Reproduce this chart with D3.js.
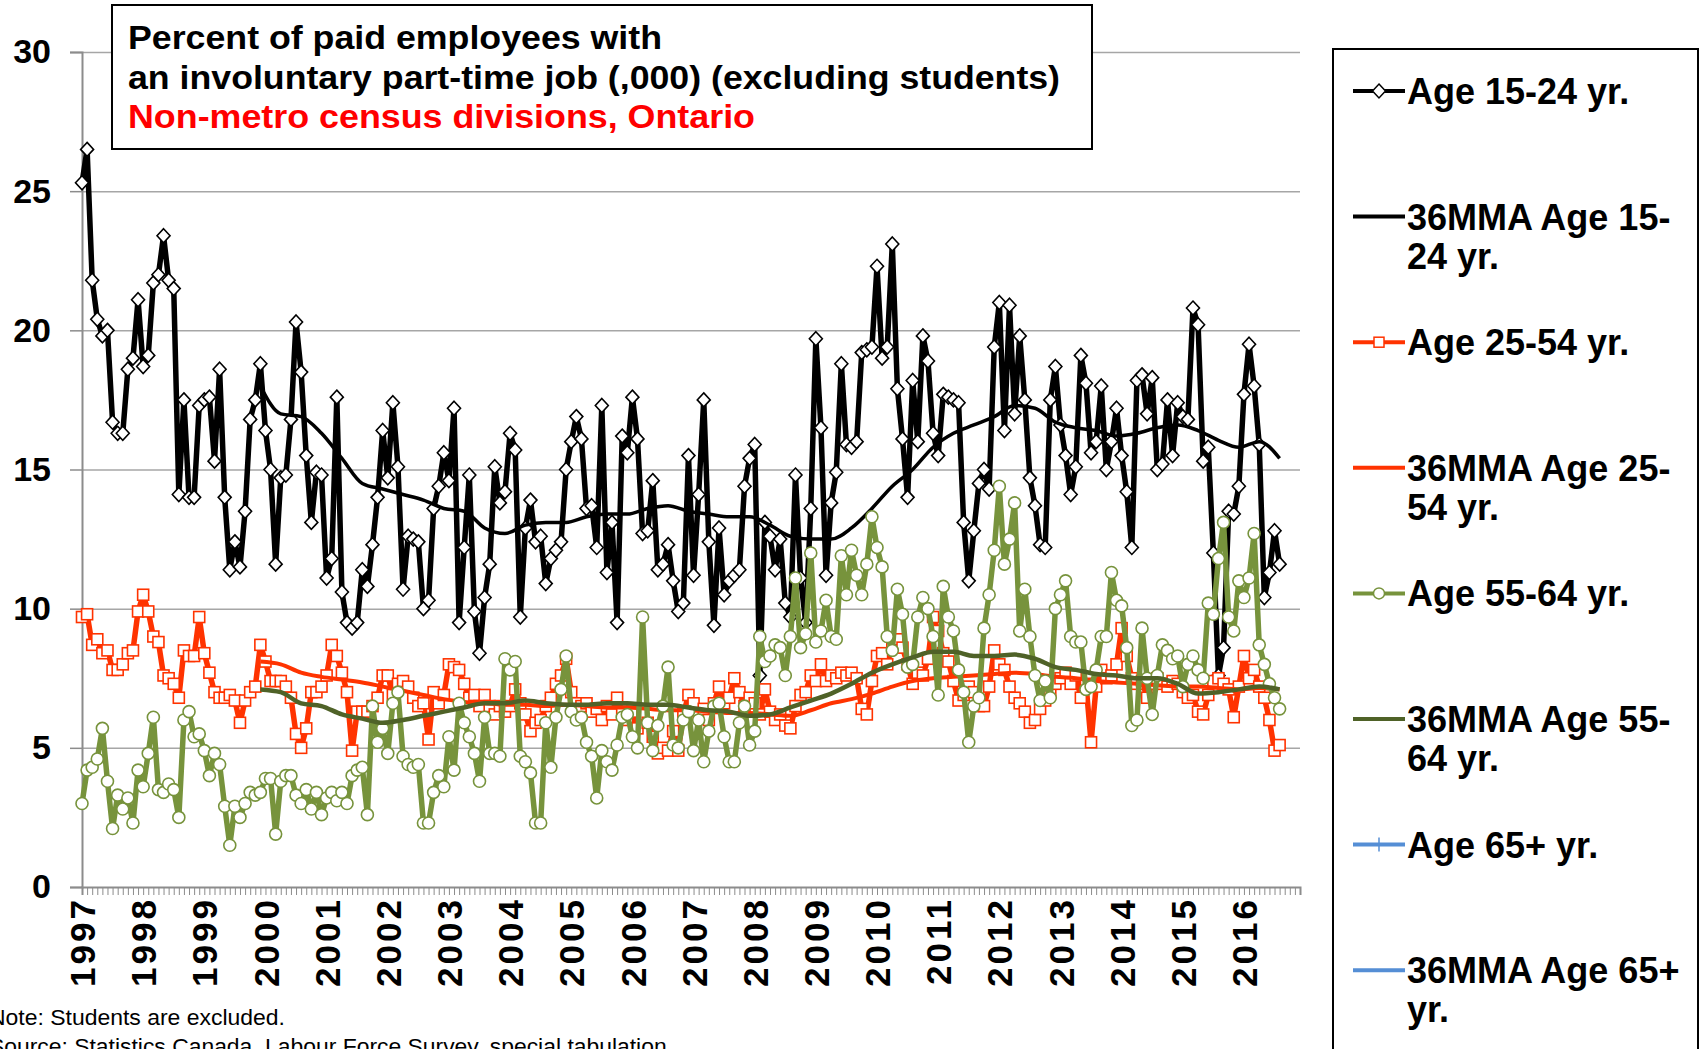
<!DOCTYPE html>
<html>
<head>
<meta charset="utf-8">
<script src="https://cdn.jsdelivr.net/npm/d3@7"></script>
<style>
  body { margin: 0; background: #fff; }
  svg { display: block; font-family: "Liberation Sans", Arial, sans-serif; }
</style>
</head>
<body>
<svg id="chart" width="1700" height="1049"></svg>
<script>
// monthly values, Jan 1997 onward
const yearLabels = ["1997","1998","1999","2000","2001","2002","2003","2004","2005","2006",
                    "2007","2008","2009","2010","2011","2012","2013","2014","2015","2016"];
const yTicks = [0, 5, 10, 15, 20, 25, 30];

const age1524 = [
  25.3,26.5,21.8,20.4,19.8,20.0,16.7,16.3,16.3,18.6,19.0,21.1,
  18.7,19.1,21.7,22.0,23.4,21.8,21.5,14.1,17.5,14.0,14.0,17.3,
  17.5,17.6,15.3,18.6,14.0,11.4,12.4,11.5,13.5,16.8,17.5,18.8,
  16.4,15.0,11.6,14.7,14.8,16.8,20.3,18.5,15.5,13.1,14.9,14.8,
  11.1,11.8,17.6,10.6,9.5,9.3,9.5,11.4,10.8,12.3,14.0,16.4,
  14.7,17.4,15.1,10.7,12.6,12.5,12.4,10.0,10.3,13.6,14.4,15.6,
  14.6,17.2,9.5,12.2,14.8,9.9,8.4,10.4,11.6,15.1,13.8,14.2,
  16.3,15.7,9.7,12.9,13.9,12.4,12.6,10.9,11.8,12.1,12.4,15.0,
  16.0,16.9,16.1,13.6,13.7,12.2,17.3,11.3,13.1,9.5,16.2,15.6,
  17.6,16.1,12.7,12.8,14.6,11.4,11.6,12.3,11.0,9.9,10.2,15.5,
  11.2,14.1,17.5,12.4,9.4,12.9,10.5,11.0,11.2,11.4,14.4,15.4,
  15.9,7.6,13.1,12.6,11.4,12.5,10.2,9.7,14.8,11.1,9.5,13.6,
  19.7,16.5,11.2,13.8,14.9,18.8,15.9,15.8,16.0,19.2,19.3,19.4,
  22.3,19.0,19.4,23.1,17.9,16.1,14.0,18.2,16.0,19.8,18.9,16.3,
  15.5,17.7,17.6,17.5,17.4,13.1,11.0,12.8,14.5,15.0,14.3,19.4,
  21.0,16.4,20.9,17.0,19.8,17.5,14.7,13.7,12.3,12.2,17.5,18.7,
  16.6,15.5,14.1,15.1,19.1,18.1,15.6,16.0,18.0,15.0,16.0,17.2,
  15.5,14.2,12.2,18.2,18.4,17.0,18.3,15.0,15.2,17.5,15.5,17.4,
  16.9,16.8,20.8,20.2,15.3,15.8,12.0,7.6,8.6,13.5,13.4,14.4,
  17.7,19.5,18.0,15.9,10.4,11.3,12.8,11.6
];

const age2554 = [
  9.7,9.8,8.7,8.9,8.4,8.5,7.8,7.8,8.0,8.4,8.5,9.9,
  10.5,9.9,9.0,8.8,7.6,7.5,7.3,6.8,8.5,8.3,8.3,9.7,
  8.4,7.7,7.0,6.8,6.8,6.9,6.7,5.9,6.7,7.0,7.2,8.7,
  8.1,7.4,7.4,7.4,7.2,6.8,5.5,5.0,5.7,7.0,7.0,7.2,
  7.6,8.7,8.3,7.7,7.0,4.9,6.3,6.3,6.3,6.5,6.8,7.6,
  7.6,6.9,7.3,7.4,7.2,6.8,6.5,6.6,5.3,7.0,6.6,6.9,
  8.0,7.9,7.8,7.3,6.8,6.9,6.5,6.9,6.5,6.2,6.5,6.3,
  6.5,7.1,6.6,6.2,5.6,5.9,6.0,6.5,6.8,7.3,7.6,8.2,
  7.0,6.6,6.5,6.6,6.3,6.4,6.0,6.5,6.2,6.8,6.3,6.0,
  6.3,5.7,6.2,5.9,5.4,4.8,5.0,4.9,5.6,4.9,6.2,6.9,
  6.6,6.2,6.4,6.0,6.6,7.2,6.6,6.8,7.5,7.0,6.5,6.8,
  6.6,6.2,7.1,6.3,6.0,6.2,5.8,5.7,6.5,6.9,7.0,7.6,
  7.4,8.0,7.4,7.6,7.5,7.7,7.6,7.7,7.5,6.4,6.2,7.4,
  8.3,8.4,8.0,8.7,8.9,8.6,8.0,7.3,7.7,7.6,8.2,9.7,
  9.2,8.4,8.1,7.4,6.7,6.9,7.2,7.0,6.5,6.5,7.2,8.5,
  8.0,7.8,7.2,6.8,6.6,6.3,5.9,6.0,6.4,6.7,7.0,7.3,
  7.5,7.7,7.3,7.6,6.8,7.3,5.2,7.2,7.8,7.5,7.6,8.0,
  9.3,8.3,7.5,7.3,7.4,6.8,7.3,7.5,7.3,7.2,7.4,7.3,
  7.0,6.8,6.9,6.3,6.2,6.9,7.4,7.5,7.3,7.1,6.1,7.2,
  8.3,7.5,7.8,7.2,6.8,6.0,4.9,5.1
];

const age5564 = [
  3.0,4.2,4.3,4.6,5.7,3.8,2.1,3.3,2.8,3.2,2.3,4.2,
  3.6,4.8,6.1,3.5,3.4,3.7,3.5,2.5,6.0,6.3,5.4,5.5,
  4.9,4.0,4.8,4.4,2.9,1.5,2.9,2.5,3.0,3.4,3.3,3.4,
  3.9,3.9,1.9,3.8,4.0,4.0,3.3,3.0,3.5,2.8,3.4,2.6,
  3.2,3.4,3.1,3.4,3.0,4.0,4.2,4.3,2.6,6.5,5.2,5.7,
  4.8,6.6,7.0,4.7,4.4,4.3,4.4,2.3,2.3,3.4,4.0,3.6,
  5.4,4.2,6.6,5.9,5.4,4.8,3.8,6.1,4.8,4.8,4.7,8.2,
  7.8,8.1,4.7,4.5,4.1,2.3,2.3,5.9,4.3,6.1,7.1,8.3,
  6.3,6.0,6.1,5.2,4.7,3.2,4.9,4.5,4.2,5.1,6.1,6.2,
  5.4,5.0,9.7,5.9,4.9,5.8,6.5,7.9,5.1,5.0,6.0,6.3,
  4.9,6.0,4.5,5.6,6.5,6.6,5.4,4.5,4.5,5.9,6.5,5.1,
  5.6,9.0,8.1,8.3,8.7,8.6,7.6,9.0,11.1,8.6,9.1,12.0,
  8.8,9.2,10.3,9.0,8.9,11.9,10.5,12.1,11.2,10.5,11.6,13.3,
  12.2,11.5,9.0,8.5,10.7,9.8,7.9,8.0,9.7,10.4,10.0,9.0,
  6.9,10.8,9.7,9.2,7.8,7.0,5.2,6.5,6.8,9.3,10.5,12.1,
  14.4,11.6,12.5,13.8,9.2,10.7,9.0,7.6,6.7,7.4,6.8,10.0,
  10.5,11.0,9.0,8.8,8.8,7.1,7.2,7.8,9.0,9.0,11.3,10.3,
  10.1,8.6,5.8,6.0,9.3,7.5,6.2,7.6,8.7,8.5,8.2,8.3,
  7.2,8.0,8.3,7.8,7.5,10.2,9.8,11.8,13.1,9.7,9.2,11.0,
  10.4,11.1,12.7,8.7,8.0,7.3,6.8,6.4
];

// 36-month moving averages, read every 4th month from Dec 1999
const mmaStart = 35, mmaStep = 4;
const mma1524 = [18.0,17.0,16.9,16.3,15.4,14.5,14.3,14.1,13.9,13.6,13.5,12.9,12.7,13.0,13.1,13.1,
                 13.3,13.4,13.4,13.6,13.7,13.5,13.4,13.3,13.3,13.0,12.6,12.5,12.5,12.9,13.6,14.4,
                 15.0,15.8,16.3,16.6,16.9,17.3,17.2,16.7,16.5,16.4,16.2,16.3,16.5,16.6,16.4,16.05,
                 15.8,16.0,15.4];
const mma2554 = [8.1,8.0,7.7,7.55,7.45,7.35,7.2,7.05,6.9,6.75,6.65,6.6,6.55,6.55,6.5,6.55,
                 6.5,6.45,6.45,6.4,6.35,6.35,6.3,6.25,6.25,6.2,6.15,6.35,6.6,6.75,6.95,7.2,
                 7.4,7.5,7.55,7.6,7.65,7.7,7.65,7.55,7.5,7.4,7.35,7.3,7.25,7.2,7.2,7.15,
                 7.1,7.15,7.1];
const mma5564 = [7.1,7.0,6.6,6.5,6.2,6.05,5.9,6.0,6.15,6.3,6.45,6.6,6.6,6.7,6.6,6.55,
                 6.55,6.6,6.6,6.55,6.55,6.45,6.35,6.3,6.15,6.2,6.45,6.7,6.95,7.3,7.7,8.0,
                 8.25,8.45,8.45,8.3,8.3,8.35,8.2,7.9,7.8,7.65,7.6,7.5,7.5,7.3,6.95,7.0,
                 7.1,7.2,7.1];

const svg = d3.select("#chart");
svg.append("rect").attr("width", 1700).attr("height", 1049).attr("fill", "#fff");

const x = d3.scaleLinear().domain([0, 239]).range([82, 1300]);
const y = d3.scaleLinear().domain([0, 30]).range([887, 52]);

// gridlines
svg.append("g")
   .attr("transform", "translate(82,0)")
   .call(d3.axisLeft(y).tickValues(yTicks.slice(1)).tickSize(-1218).tickFormat(""))
   .call(g => g.select(".domain").remove())
   .call(g => g.selectAll("line").attr("stroke", "#a6a6a6").attr("stroke-width", 1.5));

// y axis
svg.append("g")
   .attr("transform", "translate(82,0)")
   .call(d3.axisLeft(y).tickValues(yTicks).tickSize(12).tickPadding(19))
   .call(g => g.select(".domain").attr("stroke", "#8c8c8c").attr("stroke-width", 2))
   .call(g => g.selectAll("line").attr("stroke", "#8c8c8c").attr("stroke-width", 1.5))
   .call(g => g.selectAll("text")
               .attr("fill", "#000")
               .style("font-size", "34px")
               .style("font-weight", "bold")
               .style("font-family", "'Liberation Sans', Arial, sans-serif"));

// x axis: a tick for every month
svg.append("g")
   .attr("transform", "translate(0,887)")
   .call(d3.axisBottom(x).tickValues(d3.range(0, 240)).tickSize(8).tickFormat(""))
   .call(g => g.select(".domain").attr("stroke", "#8c8c8c").attr("stroke-width", 2))
   .call(g => g.selectAll("line").attr("stroke", "#8c8c8c").attr("stroke-width", 1));

// year labels, rotated
svg.append("g")
   .attr("transform", "translate(0,887)")
   .call(d3.axisBottom(x).tickValues(d3.range(0, 240, 12)).tickSize(0)
           .tickFormat(i => yearLabels[i / 12]))
   .call(g => g.select(".domain").remove())
   .call(g => g.selectAll("text")
               .attr("transform", "rotate(-90)")
               .attr("text-anchor", "end")
               .attr("x", -10)
               .attr("y", 0)
               .attr("dy", "0.36em")
               .attr("fill", "#000")
               .style("font-size", "35px")
               .style("font-weight", "bold")
               .style("letter-spacing", "3px")
               .style("font-family", "'Liberation Sans', Arial, sans-serif"));

// series
const rawLine = d3.line().x((d, i) => x(i)).y(d => y(d));
const mmaLine = d3.line().x((d, i) => x(mmaStart + i * mmaStep)).y(d => y(d)).curve(d3.curveMonotoneX);

const diamond = "M0,-7L6.5,0L0,7L-6.5,0Z";

function drawRaw(values, color, marker) {
  const g = svg.append("g");
  g.append("path")
   .datum(values)
   .attr("d", rawLine)
   .attr("fill", "none")
   .attr("stroke", color)
   .attr("stroke-width", 5.5)
   .attr("stroke-linejoin", "round");

  const pts = g.selectAll(".pt")
               .data(values)
               .enter()
               .append("g")
               .attr("transform", (d, i) => `translate(${x(i)},${y(d)})`);

  if (marker == "diamond") {
    pts.append("path").attr("d", diamond)
       .attr("fill", "#fff").attr("stroke", color).attr("stroke-width", 1.6);
  } else if (marker == "square") {
    pts.append("rect").attr("x", -5.5).attr("y", -5.5).attr("width", 11).attr("height", 11)
       .attr("fill", "#fff").attr("stroke", color).attr("stroke-width", 1.6);
  } else {
    pts.append("circle").attr("r", 6)
       .attr("fill", "#fff").attr("stroke", color).attr("stroke-width", 1.6);
  }
}

function drawMma(values, color, width) {
  svg.append("path")
     .datum(values)
     .attr("d", mmaLine)
     .attr("fill", "none")
     .attr("stroke", color)
     .attr("stroke-width", width);
}

drawRaw(age1524, "#000000", "diamond");
drawMma(mma1524, "#000000", 3.5);
drawRaw(age2554, "#FF3300", "square");
drawMma(mma2554, "#FF3300", 4);
drawRaw(age5564, "#77933C", "circle");
drawMma(mma5564, "#4F6228", 4.5);

// title box
svg.append("rect")
   .attr("x", 112).attr("y", 5).attr("width", 980).attr("height", 144)
   .attr("fill", "#fff").attr("stroke", "#000").attr("stroke-width", 2);

const titleLines = [
  {text: "Percent of paid employees with", y: 49, len: 534, color: "#000"},
  {text: "an involuntary part-time job (,000) (excluding students)", y: 89, len: 932, color: "#000"},
  {text: "Non-metro census divisions, Ontario", y: 128, len: 627, color: "#FF0000"}
];
svg.selectAll(".title")
   .data(titleLines)
   .enter()
   .append("text")
   .attr("x", 128)
   .attr("y", d => d.y)
   .attr("textLength", d => d.len)
   .attr("lengthAdjust", "spacingAndGlyphs")
   .attr("fill", d => d.color)
   .style("font-size", "34px")
   .style("font-weight", "bold")
   .text(d => d.text);

// legend
svg.append("rect")
   .attr("x", 1333).attr("y", 49).attr("width", 365).attr("height", 1020)
   .attr("fill", "#fff").attr("stroke", "#000").attr("stroke-width", 2);

const legendItems = [
  {lines: ["Age 15-24 yr."], color: "#000000", marker: "diamond"},
  {lines: ["36MMA Age 15-", "24 yr."], color: "#000000"},
  {lines: ["Age 25-54 yr."], color: "#FF3300", marker: "square"},
  {lines: ["36MMA Age 25-", "54 yr."], color: "#FF3300"},
  {lines: ["Age 55-64 yr."], color: "#77933C", marker: "circle"},
  {lines: ["36MMA Age 55-", "64 yr."], color: "#4F6228"},
  {lines: ["Age 65+ yr."], color: "#558ED5", marker: "plus"},
  {lines: ["36MMA Age 65+", "yr."], color: "#558ED5"}
];

legendItems.forEach((item, k) => {
  const base = 104 + k * 125.6;
  const ly = base - 13;
  const g = svg.append("g");
  g.append("line")
   .attr("x1", 1353).attr("x2", 1405).attr("y1", ly).attr("y2", ly)
   .attr("stroke", item.color).attr("stroke-width", 4);
  if (item.marker == "diamond") {
    g.append("path").attr("d", diamond).attr("transform", `translate(1379,${ly})`)
     .attr("fill", "#fff").attr("stroke", item.color).attr("stroke-width", 1.5);
  } else if (item.marker == "square") {
    g.append("rect").attr("x", 1374).attr("y", ly - 5).attr("width", 10).attr("height", 10)
     .attr("fill", "#fff").attr("stroke", item.color).attr("stroke-width", 1.5);
  } else if (item.marker == "circle") {
    g.append("circle").attr("cx", 1379).attr("cy", ly).attr("r", 5.5)
     .attr("fill", "#fff").attr("stroke", item.color).attr("stroke-width", 1.5);
  } else if (item.marker == "plus") {
    g.append("line").attr("x1", 1379).attr("x2", 1379).attr("y1", ly - 7).attr("y2", ly + 7)
     .attr("stroke", item.color).attr("stroke-width", 1.5);
  }
  item.lines.forEach((t, j) => {
    g.append("text")
     .attr("x", 1407)
     .attr("y", base + j * 39)
     .attr("fill", "#000")
     .style("font-size", "36px")
     .style("font-weight", "bold")
     .text(t);
  });
});

// footnotes
svg.append("text")
   .attr("x", -11).attr("y", 1025)
   .attr("textLength", 296)
   .attr("lengthAdjust", "spacingAndGlyphs")
   .style("font-size", "22px")
   .text("Note: Students are excluded.");
svg.append("text")
   .attr("x", -11).attr("y", 1054)
   .attr("textLength", 684)
   .attr("lengthAdjust", "spacingAndGlyphs")
   .style("font-size", "22px")
   .text("Source: Statistics Canada, Labour Force Survey, special tabulation.");
</script>
</body>
</html>
